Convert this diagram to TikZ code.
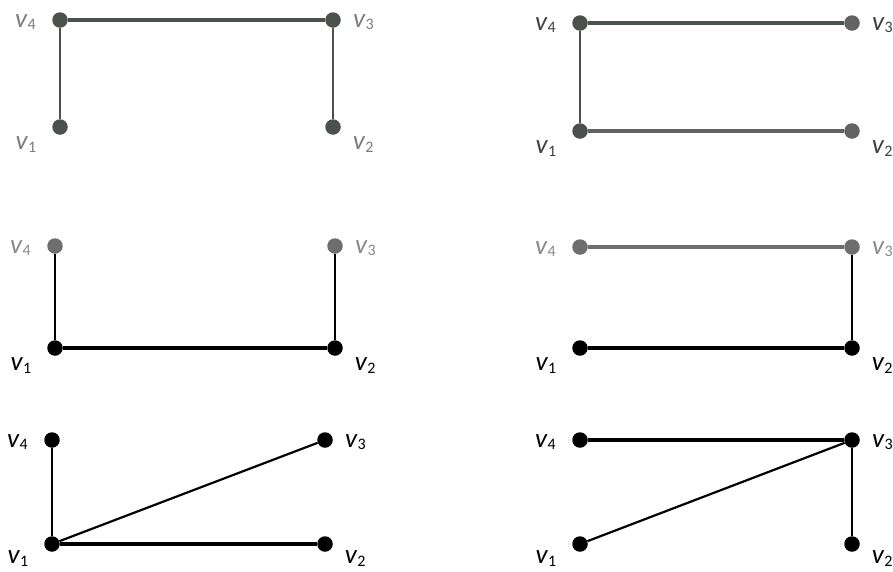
\documentclass[tikz,border=0pt]{standalone}
\usepackage{fontspec}
\setmainfont{Carlito}
\usetikzlibrary{positioning}

\definecolor{darkv}{HTML}{4B524E}
\definecolor{midv}{HTML}{626262}
\definecolor{greyv}{HTML}{6E6E6E}
\definecolor{softlbl}{HTML}{7C7C7C}
\definecolor{paletxt}{HTML}{8A8A8A}
\definecolor{darklbl}{HTML}{404040}

\newcommand{\vname}[1]{\textit{v}\raisebox{-2.5pt}{\fontsize{16}{16}\selectfont #1}}

\begin{document}
\begin{tikzpicture}[
    x=1pt, y=-1pt,
    vtx/.style={circle, fill, inner sep=0pt, minimum size=15.5pt},
    lbl/.style={inner sep=0pt, font=\fontsize{27}{30}\selectfont},
    heavy/.style={line width=3.2pt},
    light/.style={line width=2.2pt}]
\useasboundingbox[fill=white] (0,0) rectangle (893,571);

% top left
\node[vtx, darkv] (a4) at (60,20) {};
\node[vtx, darkv] (a3) at (333,20) {};
\node[vtx, darkv] (a1) at (60,127) {};
\node[vtx, darkv] (a2) at (333,127) {};
\node[lbl, softlbl, left=16pt of a4, yshift=-2pt] (la4) {\vname{4}};
\node[lbl, softlbl, right=12pt of a3, yshift=-2pt] (la3) {\vname{3}};
\node[lbl, softlbl, below left=4pt and 18pt of a1] (la1) {\vname{1}};
\node[lbl, softlbl, below right=4pt and 14pt of a2] (la2) {\vname{2}};
\draw[heavy, darkv] (a4) -- (a3);
\draw[light, darkv] (a4) -- (a1);
\draw[light, darkv] (a3) -- (a2);

% top right
\node[vtx, darkv] (b4) at (580,23) {};
\node[vtx, midv] (b3) at (852,23) {};
\node[vtx, darkv] (b1) at (580,131) {};
\node[vtx, midv] (b2) at (852,131) {};
\node[lbl, darklbl, left=16pt of b4, yshift=-2pt] (lb4) {\vname{4}};
\node[lbl, darklbl, right=12pt of b3, yshift=-2pt] (lb3) {\vname{3}};
\node[lbl, darklbl, below left=4pt and 18pt of b1] (lb1) {\vname{1}};
\node[lbl, darklbl, below right=4pt and 14pt of b2] (lb2) {\vname{2}};
\draw[heavy, darkv!90!midv] (b4) -- (b3);
\draw[light, darkv] (b4) -- (b1);
\draw[heavy, midv] (b1) -- (b2);

% middle left
\node[vtx, greyv] (c4) at (55,246) {};
\node[vtx, greyv] (c3) at (335,246) {};
\node[vtx] (c1) at (55,348) {};
\node[vtx] (c2) at (335,348) {};
\node[lbl, paletxt, left=16pt of c4, yshift=-2pt] (lc4) {\vname{4}};
\node[lbl, paletxt, right=12pt of c3, yshift=-2pt] (lc3) {\vname{3}};
\node[lbl, below left=4pt and 18pt of c1] (lc1) {\vname{1}};
\node[lbl, below right=4pt and 14pt of c2] (lc2) {\vname{2}};
\draw[heavy] (c1) -- (c2);
\draw[light] (c1) -- (c4);
\draw[light] (c2) -- (c3);

% middle right
\node[vtx, greyv] (d4) at (580,247) {};
\node[vtx, greyv] (d3) at (852,247) {};
\node[vtx] (d1) at (580,348) {};
\node[vtx] (d2) at (852,348) {};
\node[lbl, paletxt, left=16pt of d4, yshift=-2pt] (ld4) {\vname{4}};
\node[lbl, paletxt, right=12pt of d3, yshift=-2pt] (ld3) {\vname{3}};
\node[lbl, below left=4pt and 18pt of d1] (ld1) {\vname{1}};
\node[lbl, below right=4pt and 14pt of d2] (ld2) {\vname{2}};
\draw[heavy, greyv] (d4) -- (d3);
\draw[heavy] (d1) -- (d2);
\draw[light] (d2) -- (d3);

% bottom left
\node[vtx] (e4) at (52,440) {};
\node[vtx] (e3) at (325,440) {};
\node[vtx] (e1) at (52,544) {};
\node[vtx] (e2) at (325,544) {};
\node[lbl, left=16pt of e4, yshift=-2pt] (le4) {\vname{4}};
\node[lbl, right=12pt of e3, yshift=-2pt] (le3) {\vname{3}};
\node[lbl, below left=1pt and 18pt of e1] (le1) {\vname{1}};
\node[lbl, below right=1pt and 14pt of e2] (le2) {\vname{2}};
\draw[heavy] (e1) -- (e2);
\draw[light] (e1) -- (e4);
\draw[light] (e1) -- (e3);

% bottom right
\node[vtx] (f4) at (580,440) {};
\node[vtx] (f3) at (852,440) {};
\node[vtx] (f1) at (580,544) {};
\node[vtx] (f2) at (852,544) {};
\node[lbl, left=16pt of f4, yshift=-2pt] (lf4) {\vname{4}};
\node[lbl, right=12pt of f3, yshift=-2pt] (lf3) {\vname{3}};
\node[lbl, below left=1pt and 18pt of f1] (lf1) {\vname{1}};
\node[lbl, below right=1pt and 14pt of f2] (lf2) {\vname{2}};
\draw[heavy] (f4) -- (f3);
\draw[light] (f3) -- (f2);
\draw[light] (f3) -- (f1);
\end{tikzpicture}
\end{document}
